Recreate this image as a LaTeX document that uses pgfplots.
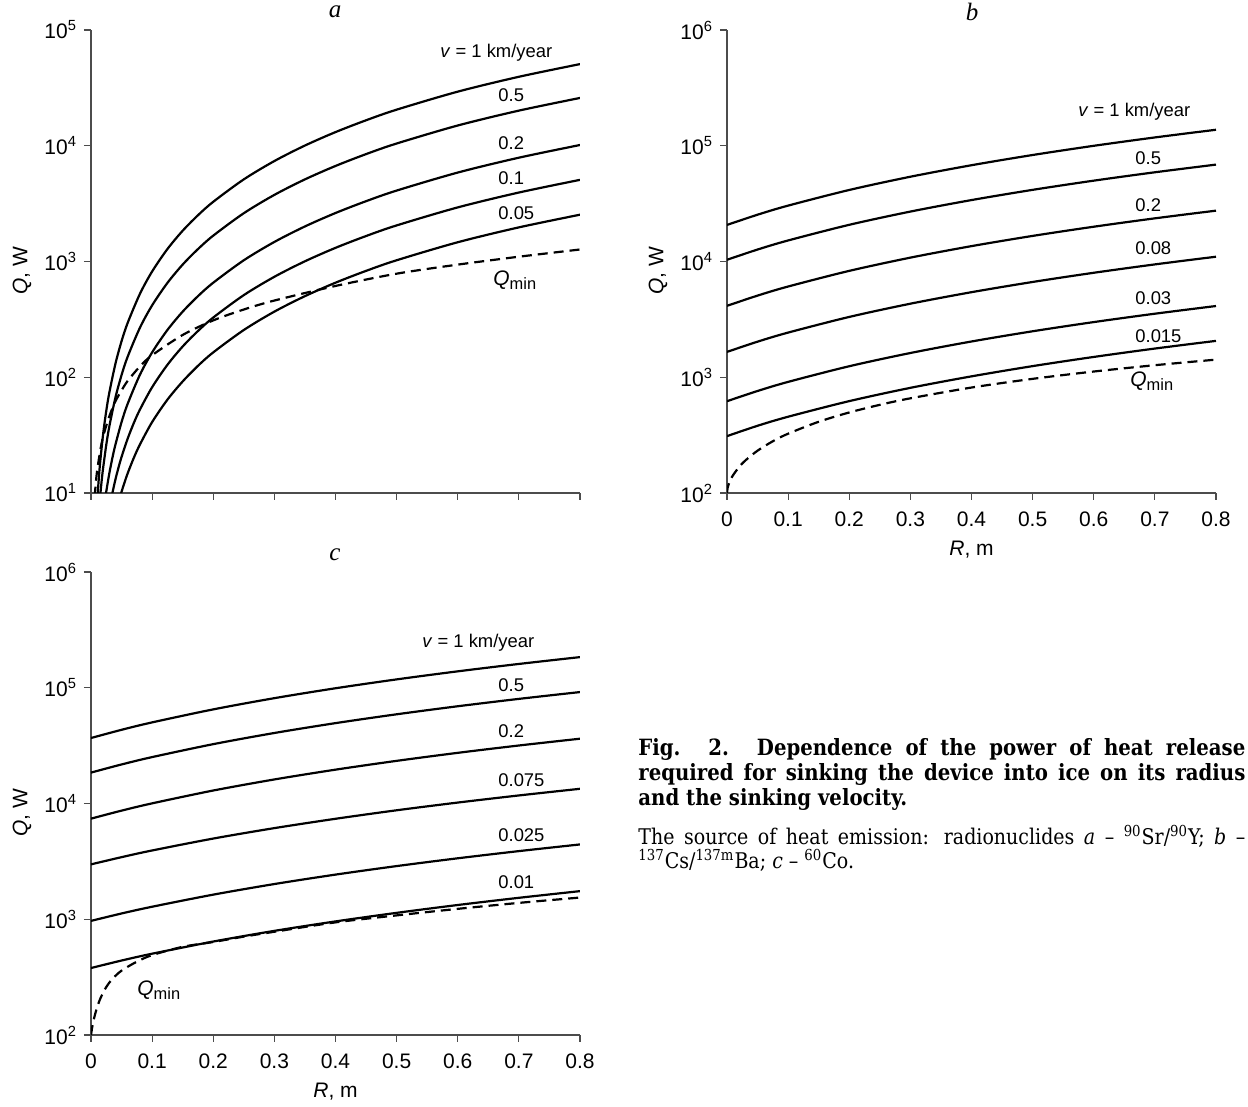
\documentclass[border=0pt]{standalone}
\usepackage{fontspec}
\setmainfont{Liberation Sans}
\newfontfamily\capfont{DejaVu Serif}[FakeStretch=0.88]
\newfontfamily\letfont{Liberation Serif}
\usepackage{pgfplots}
\pgfplotsset{compat=1.18}

\pgfplotsset{
  every axis/.append style={
    scale only axis, width=244.5pt, height=231.5pt,
    xmin=0, xmax=0.8,
    axis x line*=bottom, axis y line*=left,
    axis line style={line width=0.6pt, black!70},
    tick style={line width=0.6pt, black!70},
    tick align=outside, major tick length=3.5pt,
    yminorticks=false,
    xtick={0,0.1,0.2,0.3,0.4,0.5,0.6,0.7,0.8},
    tick label style={font=\fontsize{10.5}{12}\selectfont},
    xticklabel style={yshift=-2.5pt},
    label style={font=\fontsize{10.5}{12}\selectfont},
    ylabel={\textit{Q}, W},
    ylabel style={at={(axis description cs:-0.141,0.48)}, anchor=center},
    xlabel style={at={(axis description cs:0.5,-0.123)}, anchor=center},
  },
  solidc/.style={black, line width=1.1pt, smooth},
  dashc/.style={black, line width=1.1pt, dash pattern=on 5pt off 3pt, smooth},
}
\newcommand\qmin{\textit{Q}\raisebox{-0.4ex}{\fontsize{8.2}{9}\selectfont min}}

\begin{document}
\begin{tikzpicture}
\useasboundingbox (0,0) rectangle (624pt,-553.5pt);

% ---------- a: 90Sr/90Y ----------
\begin{semilogyaxis}[at={(45.5pt,-246.5pt)}, anchor=south west,
  ymin=10, ymax=100000,
  ytick={10,100,1000,10000,100000},
  yticklabels={10\textsuperscript{1},10\textsuperscript{2},10\textsuperscript{3},10\textsuperscript{4},10\textsuperscript{5}},
  xticklabels={}]
\addplot[solidc] table {
x y
0.010 8.2
0.0125 12.8
0.015 18.5
0.02 32.8
0.025 51.3
0.03 73.8
0.04 131
0.05 205
0.06 295
0.08 525
0.10 820
0.125 1281
0.15 1845
0.175 2510
0.20 3280
0.25 5125
0.30 7380
0.35 10045
0.40 13120
0.45 16600
0.50 20500
0.60 29340
0.70 39445
0.80 50750
};
\addplot[solidc] table {
x y
0.014 8.2
0.016 10.7
0.018 13.6
0.02 16.7
0.025 26.1
0.03 37.6
0.04 66.9
0.05 104.5
0.06 150.6
0.08 267.6
0.10 418
0.125 653
0.15 941
0.175 1280
0.20 1673
0.25 2614
0.30 3764
0.35 5123
0.40 6691
0.45 8470
0.50 10455
0.60 14963
0.70 20117
0.80 25883
};
\addplot[solidc] table {
x y
0.022 7.9
0.025 10.3
0.03 14.8
0.035 20.1
0.04 26.2
0.05 41
0.06 59
0.08 105
0.10 164
0.125 256
0.15 369
0.175 502
0.20 656
0.25 1025
0.30 1476
0.35 2009
0.40 2624
0.45 3320
0.50 4100
0.60 5868
0.70 7889
0.80 10150
};
\addplot[solidc] table {
x y
0.032 8.4
0.035 10.0
0.04 13.1
0.045 16.6
0.05 20.5
0.06 29.5
0.07 40.2
0.08 52.5
0.10 82
0.125 128
0.15 184.5
0.175 251
0.20 328
0.25 512.5
0.30 738
0.35 1004.5
0.40 1312
0.45 1660
0.50 2050
0.60 2934
0.70 3944.5
0.80 5075
};
\addplot[solidc] table {
x y
0.045 8.3
0.05 10.25
0.055 12.4
0.06 14.8
0.07 20.1
0.08 26.2
0.10 41
0.125 64
0.15 92
0.175 125.5
0.20 164
0.25 256
0.30 369
0.35 502
0.40 656
0.45 830
0.50 1025
0.60 1467
0.70 1972
0.80 2537
};
\addplot[dashc] table {
x y
0.006 9.3
0.008 12.4
0.01 15.5
0.015 23
0.02 31
0.03 46
0.04 62
0.05 77
0.06 93
0.08 124
0.10 155
0.15 232
0.20 310
0.25 385
0.30 460
0.40 615
0.50 785
0.60 940
0.70 1100
0.80 1270
};
\end{semilogyaxis}

% ---------- b: 137Cs/137mBa ----------
\begin{semilogyaxis}[at={(363.5pt,-246.5pt)}, anchor=south west,
  ymin=100, ymax=1000000,
  ytick={100,1000,10000,100000,1000000},
  yticklabels={10\textsuperscript{2},10\textsuperscript{3},10\textsuperscript{4},10\textsuperscript{5},10\textsuperscript{6}},
  xticklabels={0,0.1,0.2,0.3,0.4,0.5,0.6,0.7,0.8},
  xlabel={\textit{R}, m}]
\addplot[solidc] table {
x y
0 20700
0.05 25375
0.1 30400
0.2 41500
0.3 54000
0.4 67900
0.5 83200
0.6 99900
0.7 118000
0.8 137500
};
\addplot[solidc] table {
x y
0 10350
0.05 12690
0.1 15200
0.2 20750
0.3 27000
0.4 33950
0.5 41600
0.6 49950
0.7 59000
0.8 68750
};
\addplot[solidc] table {
x y
0 4140
0.05 5075
0.1 6080
0.2 8300
0.3 10800
0.4 13580
0.5 16640
0.6 19980
0.7 23600
0.8 27500
};
\addplot[solidc] table {
x y
0 1656
0.05 2030
0.1 2432
0.2 3320
0.3 4320
0.4 5432
0.5 6656
0.6 7992
0.7 9440
0.8 11000
};
\addplot[solidc] table {
x y
0 621
0.05 761
0.1 912
0.2 1245
0.3 1620
0.4 2037
0.5 2496
0.6 2997
0.7 3540
0.8 4125
};
\addplot[solidc] table {
x y
0 310
0.05 381
0.1 456
0.2 622
0.3 810
0.4 1018
0.5 1248
0.6 1498
0.7 1770
0.8 2062
};
\addplot[dashc] table {
x y
0 100
0.001 110.7
0.003 120.2
0.006 130.8
0.01 142.8
0.02 168.3
0.03 190.9
0.05 232.2
0.075 280
0.1 325.5
0.15 412.5
0.2 496.3
0.25 577.8
0.3 657.8
0.4 815
0.5 968.8
0.6 1120.7
0.7 1271
0.8 1420
};
\end{semilogyaxis}

% ---------- c: 60Co ----------
\begin{semilogyaxis}[at={(45.5pt,-517.5pt)}, anchor=south west,
  ymin=100, ymax=1000000,
  ytick={100,1000,10000,100000,1000000},
  yticklabels={10\textsuperscript{2},10\textsuperscript{3},10\textsuperscript{4},10\textsuperscript{5},10\textsuperscript{6}},
  xticklabels={0,0.1,0.2,0.3,0.4,0.5,0.6,0.7,0.8},
  xlabel={\textit{R}, m}]
\addplot[solidc] table {
x y
0 36800
0.05 43330
0.1 50210
0.2 65050
0.3 81310
0.4 99010
0.5 118110
0.6 138650
0.7 160610
0.8 184000
};
\addplot[solidc] table {
x y
0 18500
0.05 21750
0.1 25180
0.2 32570
0.3 40670
0.4 49480
0.5 58990
0.6 69220
0.7 80150
0.8 91800
};
\addplot[solidc] table {
x y
0 7400
0.05 8680
0.1 10030
0.2 12950
0.3 16140
0.4 19610
0.5 23360
0.6 27400
0.7 31710
0.8 36300
};
\addplot[solidc] table {
x y
0 2980
0.05 3440
0.1 3930
0.2 4980
0.3 6130
0.4 7380
0.5 8740
0.6 10190
0.7 11740
0.8 13400
};
\addplot[solidc] table {
x y
0 968
0.05 1122
0.1 1283
0.2 1632
0.3 2015
0.4 2431
0.5 2880
0.6 3363
0.7 3880
0.8 4430
};
\addplot[solidc] table {
x y
0 379
0.05 440
0.1 504
0.2 642
0.3 794
0.4 958
0.5 1136
0.6 1328
0.7 1532
0.8 1750
};
\addplot[dashc] table {
x y
0 100
0.003 125
0.008 160
0.015 205
0.025 260
0.035 305
0.05 360
0.075 430
0.10 490
0.15 578
0.20 636
0.25 708
0.30 780
0.40 940
0.50 1080
0.60 1230
0.70 1385
0.80 1540
};
\end{semilogyaxis}

% curve labels
\begin{scope}[every node/.style={font=\fontsize{9.2}{11}\selectfont, inner sep=0pt, anchor=west}]
\node at (220pt,-26.5pt) {\textit{v} = 1 km/year};
\node at (249pt,-47.5pt) {0.5};
\node at (249pt,-71.5pt) {0.2};
\node at (249pt,-89pt) {0.1};
\node at (249pt,-106.5pt) {0.05};
\node[font=\fontsize{10.5}{12}\selectfont] at (246.5pt,-140pt) {\qmin};

\node at (539pt,-56pt) {\textit{v} = 1 km/year};
\node at (567.5pt,-79pt) {0.5};
\node at (567.5pt,-102.5pt) {0.2};
\node at (567.5pt,-124pt) {0.08};
\node at (567.5pt,-149pt) {0.03};
\node at (567.5pt,-168pt) {0.015};
\node[font=\fontsize{10.5}{12}\selectfont] at (565pt,-190.5pt) {\qmin};

\node at (211pt,-321.5pt) {\textit{v} = 1 km/year};
\node at (249pt,-342.5pt) {0.5};
\node at (249pt,-365.5pt) {0.2};
\node at (249pt,-390pt) {0.075};
\node at (249pt,-417.5pt) {0.025};
\node at (249pt,-441pt) {0.01};
\node[font=\fontsize{10.5}{12}\selectfont] at (68.5pt,-495pt) {\qmin};
\end{scope}

% panel letters
\begin{scope}[every node/.style={font=\letfont\itshape\fontsize{12.5}{14}\selectfont, inner sep=0pt}]
\node at (167.5pt,-6pt) {a};
\node at (486pt,-6pt) {b};
\node at (167.5pt,-277.5pt) {c};
\end{scope}

% caption
\node[anchor=north west, inner sep=0pt] at (319pt,-369pt) {\parbox[t]{303.5pt}{%
\hyphenpenalty=10000
\capfont\bfseries\fontsize{11.2}{12.5}\selectfont
Fig. 2. Dependence of the power of heat release\linebreak
required for sinking the device into ice on its radius\linebreak
and the sinking velocity.\par
\vspace{6.5pt}\mdseries\fontsize{10.8}{12}\selectfont
The source of heat emission: radionuclides \textit{a} – \textsuperscript{90}Sr/\textsuperscript{90}Y; \textit{b} –\linebreak
\textsuperscript{137}Cs/\textsuperscript{137m}Ba; \textit{c} – \textsuperscript{60}Co.}};
\end{tikzpicture}
\end{document}
